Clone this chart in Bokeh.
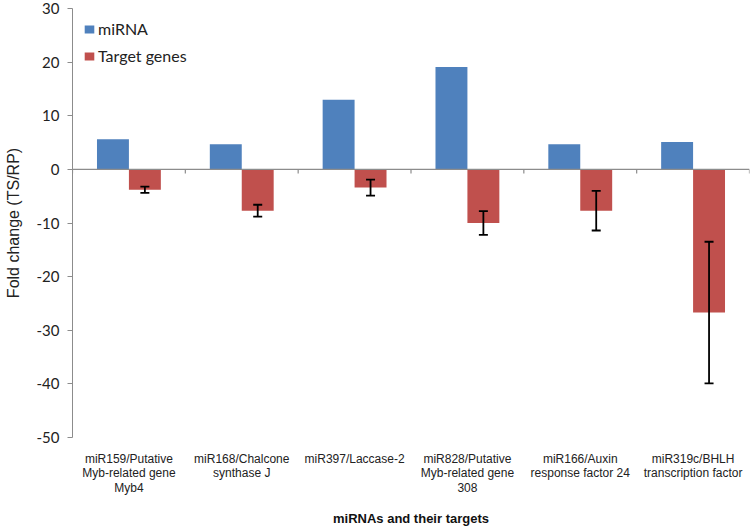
from bokeh.plotting import figure
from bokeh.models import (ColumnDataSource, FactorRange, Whisker, TeeHead, Span,
                          Legend, LegendItem, FixedTicker)
from bokeh.transform import dodge
from bokeh.embed import file_html
from bokeh.resources import INLINE

categories = [
    "miR159/Putative\nMyb-related gene\nMyb4",
    "miR168/Chalcone\nsynthase J",
    "miR397/Laccase-2",
    "miR828/Putative\nMyb-related gene\n308",
    "miR166/Auxin\nresponse factor 24",
    "miR319c/BHLH\ntranscription factor",
]
mirna = [5.6, 4.7, 13.0, 19.1, 4.7, 5.1]
target = [-3.8, -7.7, -3.4, -10.0, -7.7, -26.7]
target_err = [0.6, 1.1, 1.5, 2.2, 3.7, 13.2]
y_ticks = [-50, -40, -30, -20, -10, 0, 10, 20, 30]

lower = [t - e for t, e in zip(target, target_err)]
upper = [t + e for t, e in zip(target, target_err)]
src = ColumnDataSource(dict(cat=categories, mirna=mirna, target=target,
                            lower=lower, upper=upper))

p = figure(width=751, height=529, x_range=FactorRange(*categories),
           y_range=(-50, 30), output_backend="svg", toolbar_location=None,
           min_border_left=72, min_border_right=2, min_border_top=8,
           min_border_bottom=92)
p.outline_line_color = None
p.xgrid.grid_line_color = None
p.ygrid.grid_line_color = None
p.background_fill_color = "white"

bw = 0.283
off = 0.1415
r1 = p.vbar(x=dodge("cat", -off, range=p.x_range), top="mirna", bottom=0,
            width=bw, source=src, fill_color="#4F81BD", line_color=None)
r2 = p.vbar(x=dodge("cat", off, range=p.x_range), top="target", bottom=0,
            width=bw, source=src, fill_color="#C0504D", line_color=None)

wh = Whisker(base=dodge("cat", off, range=p.x_range), upper="upper", lower="lower",
             source=src, line_color="black", line_width=1.8, level="overlay",
             upper_head=TeeHead(size=9, line_color="black", line_width=1.8),
             lower_head=TeeHead(size=9, line_color="black", line_width=1.8))
p.add_layout(wh)

# zero axis line with boundary ticks
p.add_layout(Span(location=0, dimension="width", line_color="#8C8C8C", line_width=1.2))
n = len(categories)
bounds = list(range(n + 1))
p.segment(x0=bounds, x1=bounds, y0=[0] * (n + 1), y1=[-0.75] * (n + 1),
          line_color="#8C8C8C", line_width=1.2)

# y axis
p.yaxis.ticker = FixedTicker(ticks=y_ticks)
p.yaxis.major_label_overrides = {t: str(t) for t in y_ticks}
p.yaxis.minor_tick_line_color = None
p.yaxis.axis_line_color = "#8C8C8C"
p.yaxis.major_tick_line_color = "#8C8C8C"
p.yaxis.major_tick_out = 5
p.yaxis.major_tick_in = 0
p.yaxis.major_label_text_font = "Lato"
p.yaxis.major_label_text_font_size = "15px"
p.yaxis.major_label_text_color = "#222222"
p.yaxis.major_label_standoff = 8
p.yaxis.axis_label = "Fold change (TS/RP)"
p.yaxis.axis_label_text_font = "Liberation Sans"
p.yaxis.axis_label_text_font_size = "16px"
p.yaxis.axis_label_text_font_style = "normal"
p.yaxis.axis_label_text_color = "#222222"
p.yaxis.axis_label_standoff = 12

# x axis
p.xaxis.axis_line_color = None
p.xaxis.major_tick_line_color = None
p.xaxis.major_tick_out = 0
p.xaxis.major_tick_in = 0
p.xaxis.minor_tick_line_color = None
p.xaxis.major_label_text_font = "Liberation Sans"
p.xaxis.major_label_text_font_size = "12px"
p.xaxis.major_label_text_color = "#222222"
p.xaxis.major_label_text_line_height = 1.05
p.xaxis.major_label_standoff = 14
p.xaxis.axis_label = "miRNAs and their targets"
p.xaxis.axis_label_text_font = "Liberation Sans"
p.xaxis.axis_label_text_font_size = "13px"
p.xaxis.axis_label_text_font_style = "bold"
p.xaxis.axis_label_text_color = "#111111"
p.xaxis.axis_label_standoff = 13

legend = Legend(items=[LegendItem(label="miRNA", renderers=[r1]),
                       LegendItem(label="Target genes", renderers=[r2])],
                location="top_left")
legend.border_line_color = None
legend.background_fill_alpha = 0
legend.margin = 11
legend.padding = 13
legend.spacing = 8
legend.glyph_width = 12
legend.glyph_height = 10
legend.label_standoff = 3
legend.label_text_font = "Lato"
legend.label_text_font_size = "16px"
legend.label_text_color = "#222222"
p.add_layout(legend)

open("out.html", "w").write(file_html(p, INLINE))
